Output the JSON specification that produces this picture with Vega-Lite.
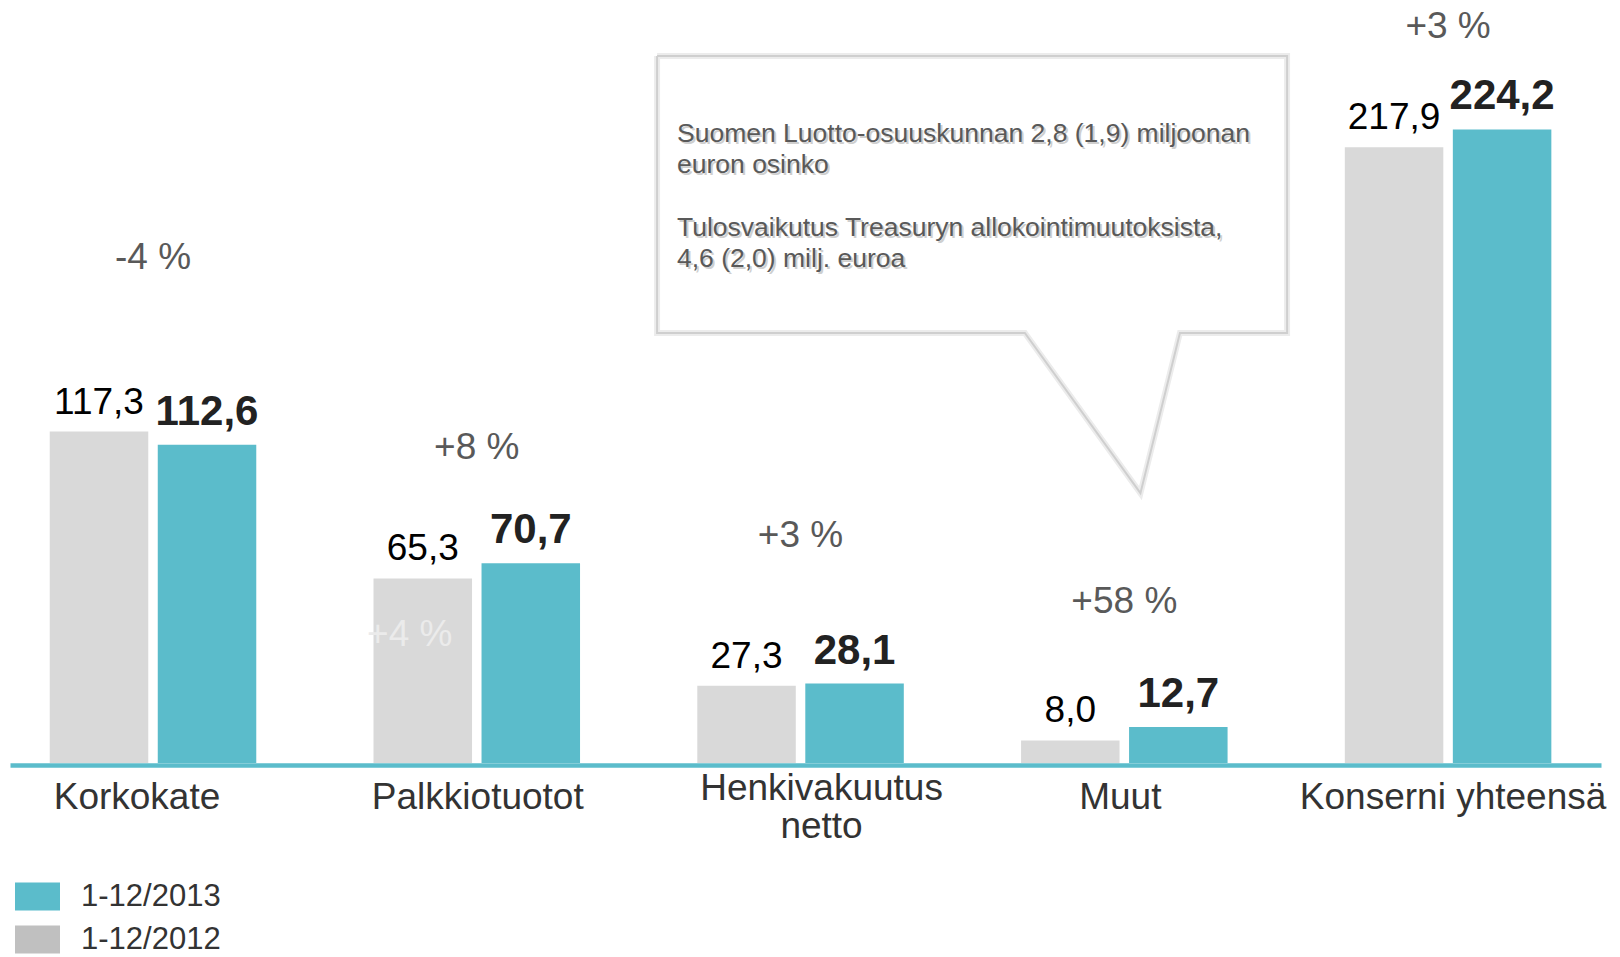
{
  "$schema": "https://vega.github.io/schema/vega-lite/v6.json",
  "width": 1591,
  "height": 763,
  "autosize": {"type": "none"},
  "padding": {"left": 10, "top": 0, "right": 19, "bottom": 194},
  "background": "white",
  "config": {
    "view": {"stroke": null},
    "axis": {"grid": false},
    "locale": {"number": {"decimal": ",", "thousands": "\u00a0", "grouping": [3], "currency": ["", " €"]}}
  },
  "datasets": {
    "bars": [
      {"category": "Korkokate", "period": "1-12/2012", "value": 117.3},
      {"category": "Korkokate", "period": "1-12/2013", "value": 112.6},
      {"category": "Palkkiotuotot", "period": "1-12/2012", "value": 65.3},
      {"category": "Palkkiotuotot", "period": "1-12/2013", "value": 70.7},
      {"category": "Henkivakuutus netto", "period": "1-12/2012", "value": 27.3},
      {"category": "Henkivakuutus netto", "period": "1-12/2013", "value": 28.1},
      {"category": "Muut", "period": "1-12/2012", "value": 8.0},
      {"category": "Muut", "period": "1-12/2013", "value": 12.7},
      {"category": "Konserni yhteensä", "period": "1-12/2012", "value": 217.9},
      {"category": "Konserni yhteensä", "period": "1-12/2013", "value": 224.2}
    ],
    "changes": [
      {"category": "Korkokate", "label": "-4 %", "at": 174.8},
      {"category": "Palkkiotuotot", "label": "+8 %", "at": 107.6},
      {"category": "Henkivakuutus netto", "label": "+3 %", "at": 76.4},
      {"category": "Muut", "label": "+58 %", "at": 53.1},
      {"category": "Konserni yhteensä", "label": "+3 %", "at": 256.4}
    ],
    "ghost": [
      {"category": "Palkkiotuotot", "period": "1-12/2012", "label": "+4 %", "at": 41.5}
    ],
    "callout": [
      {"i": 0, "u": 1.557, "at": 250.2},
      {"i": 1, "u": 3.503, "at": 250.2},
      {"i": 2, "u": 3.503, "at": 152.2},
      {"i": 3, "u": 3.172, "at": 152.2},
      {"i": 4, "u": 3.050, "at": 95.5},
      {"i": 5, "u": 2.693, "at": 152.2},
      {"i": 6, "u": 1.557, "at": 152.2},
      {"i": 7, "u": 1.557, "at": 250.2}
    ],
    "note": [
      {"u": 1.6185, "at": 227.1, "text": "Suomen Luotto-osuuskunnan 2,8 (1,9) miljoonan\neuron osinko"},
      {"u": 1.6185, "at": 193.9, "text": "Tulosvaikutus Treasuryn allokointimuutoksista,\n4,6 (2,0) milj. euroa"}
    ]
  },
  "layer": [
    {
      "encoding": {
        "x": {
          "field": "category",
          "type": "nominal",
          "sort": ["Korkokate", "Palkkiotuotot", "Henkivakuutus netto", "Muut", "Konserni yhteensä"],
          "scale": {"paddingInner": 0.1166, "paddingOuter": 0.0153, "align": 0},
          "axis": {
            "title": null,
            "orient": "bottom",
            "domain": true,
            "domainColor": "#5bbccb",
            "domainWidth": 4.5,
            "domainCap": "butt",
            "offset": 2,
            "ticks": false,
            "tickSize": 0,
            "grid": false,
            "labelAngle": 0,
            "labelFont": "Liberation Sans",
            "labelFontSize": 37,
            "labelColor": "#333333",
            "labelPadding": {"condition": {"test": "datum.value == 'Henkivakuutus netto'", "value": 5}, "value": 14},
            "labelOffset": {"condition": [
              {"test": "datum.value == 'Korkokate'", "value": -16},
              {"test": "datum.value == 'Henkivakuutus netto'", "value": 21},
              {"test": "datum.value == 'Muut'", "value": -4},
              {"test": "datum.value == 'Konserni yhteensä'", "value": 5}
            ], "value": 1},
            "labelLimit": 0,
            "labelOverlap": false,
            "labelLineHeight": 38,
            "labelBaseline": "top",
            "labelExpr": "datum.label == 'Henkivakuutus netto' ? ['Henkivakuutus', 'netto'] : datum.label"
          }
        }
      },
      "layer": [
        {
          "data": {"name": "bars"},
          "mark": {"type": "bar"},
          "encoding": {
            "xOffset": {"field": "period", "type": "nominal", "sort": ["1-12/2012", "1-12/2013"], "scale": {"paddingInner": 0.088, "paddingOuter": 0.368}},
            "y": {"field": "value", "type": "quantitative", "scale": {"domain": [0, 270], "nice": false}, "axis": null},
            "color": {
              "field": "period",
              "type": "nominal",
              "condition": {"test": "datum.period === '1-12/2012'", "value": "#d9d9d9"},
              "scale": {"domain": ["1-12/2013", "1-12/2012"], "range": ["#5bbccb", "#c0c0c0"]},
              "legend": {
                "orient": "none",
                "legendX": 5,
                "legendY": 874,
                "title": null,
                "symbolType": "M-1,-0.62H1V0.62H-1Z",
                "symbolSize": 2025,
                "symbolStrokeWidth": 0,
                "symbolOpacity": 1,
                "labelFont": "Liberation Sans",
                "labelFontSize": 31,
                "labelColor": "#333333",
                "labelOffset": 21,
                "labelLimit": 0,
                "rowPadding": 5,
                "padding": 0
              }
            }
          }
        },
        {
          "data": {"name": "bars"},
          "transform": [{"filter": "datum.period === '1-12/2012'"}],
          "mark": {"type": "text", "font": "Liberation Sans", "fontSize": 37, "color": "#000000", "baseline": "alphabetic", "dy": -18},
          "encoding": {
            "xOffset": {"field": "period", "type": "nominal", "sort": ["1-12/2012", "1-12/2013"]},
            "y": {"field": "value", "type": "quantitative", "scale": {"domain": [0, 270], "nice": false}},
            "text": {"field": "value", "type": "quantitative", "format": ".1f"}
          }
        },
        {
          "data": {"name": "bars"},
          "transform": [{"filter": "datum.period === '1-12/2013'"}],
          "mark": {"type": "text", "font": "Liberation Sans", "fontSize": 42, "fontWeight": "bold", "color": "#222222", "baseline": "alphabetic", "dy": -20},
          "encoding": {
            "xOffset": {"field": "period", "type": "nominal", "sort": ["1-12/2012", "1-12/2013"]},
            "y": {"field": "value", "type": "quantitative", "scale": {"domain": [0, 270], "nice": false}},
            "text": {"field": "value", "type": "quantitative", "format": ".1f"}
          }
        },
        {
          "data": {"name": "changes"},
          "mark": {"type": "text", "font": "Liberation Sans", "fontSize": 37, "color": "#595959", "baseline": "alphabetic"},
          "encoding": {
            "y": {"field": "at", "type": "quantitative", "scale": {"domain": [0, 270], "nice": false}},
            "text": {"field": "label", "type": "nominal"}
          }
        },
        {
          "data": {"name": "ghost"},
          "mark": {"type": "text", "font": "Liberation Sans", "fontSize": 37, "color": "#ebebeb", "baseline": "alphabetic", "dx": -13},
          "encoding": {
            "xOffset": {"field": "period", "type": "nominal", "sort": ["1-12/2012", "1-12/2013"]},
            "y": {"field": "at", "type": "quantitative", "scale": {"domain": [0, 270], "nice": false}},
            "text": {"field": "label", "type": "nominal"}
          }
        }
      ]
    },
    {
      "encoding": {
        "x": {"field": "u", "type": "quantitative", "scale": {"domain": [-0.4417, 4.4726], "nice": false, "zero": false}, "axis": null},
        "y": {"field": "at", "type": "quantitative", "scale": {"domain": [0, 270], "nice": false}}
      },
      "layer": [
        {
          "data": {"name": "callout"},
          "mark": {"type": "line", "stroke": "#ececec", "strokeWidth": 6, "strokeJoin": "miter", "interpolate": "linear"},
          "encoding": {"order": {"field": "i", "type": "quantitative"}}
        },
        {
          "data": {"name": "callout"},
          "mark": {"type": "line", "stroke": "#cfcfcf", "strokeWidth": 2, "strokeJoin": "miter", "interpolate": "linear"},
          "encoding": {"order": {"field": "i", "type": "quantitative"}}
        },
        {
          "data": {"name": "note"},
          "mark": {"type": "text", "font": "Liberation Sans", "fontSize": 26.5, "lineHeight": 31, "lineBreak": "\n", "align": "left", "baseline": "top", "color": "#cfcfcf", "dx": 2, "dy": 2},
          "encoding": {"text": {"field": "text", "type": "nominal"}}
        },
        {
          "data": {"name": "note"},
          "mark": {"type": "text", "font": "Liberation Sans", "fontSize": 26.5, "lineHeight": 31, "lineBreak": "\n", "align": "left", "baseline": "top", "color": "#595959"},
          "encoding": {"text": {"field": "text", "type": "nominal"}}
        }
      ]
    }
  ],
  "resolve": {"scale": {"x": "independent"}}
}
